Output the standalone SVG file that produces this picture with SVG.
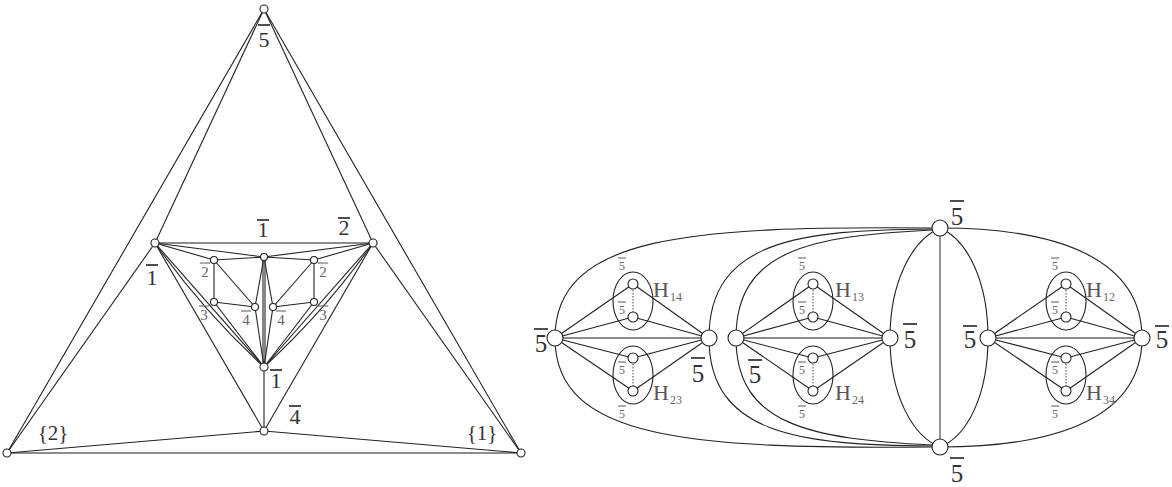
<svg xmlns="http://www.w3.org/2000/svg" width="1172" height="487" viewBox="0 0 1172 487">
<style>
.e{stroke:#222;stroke-width:1.1;fill:none}
.g{stroke:#666;stroke-width:1.4;fill:none}
.d{stroke:#444;stroke-width:1;stroke-dasharray:1.5 1.5;fill:none}
.n{fill:#fff;stroke:#222;stroke-width:1.1}
.ov{stroke:#222;stroke-width:1.1;fill:none}
.bar{stroke:#222;stroke-width:1.6}
.sbar{stroke:#666;stroke-width:1.1}
text{font-family:'Liberation Serif','DejaVu Serif',serif}
.big{font-size:22px;fill:#333;text-anchor:middle}
.bg5{font-size:25px;fill:#333;text-anchor:middle}
.sm{font-size:15px;fill:#666;text-anchor:middle}
.xs{font-size:12px;fill:#666;text-anchor:middle}
.H{font-size:22px;fill:#555}
.sub{font-size:12px;fill:#666}
</style>
<rect width="1172" height="487" fill="#fff"/>
<g id="connectors">
<line class="e" x1="264" y1="9" x2="7" y2="453"/>
<line class="e" x1="264" y1="9" x2="521" y2="453"/>
<line class="e" x1="264" y1="9" x2="155" y2="243"/>
<line class="e" x1="264" y1="9" x2="373" y2="243"/>
<line class="e" x1="155" y1="243" x2="7" y2="453"/>
<line class="e" x1="373" y1="243" x2="521" y2="453"/>
<line class="g" x1="7" y1="453" x2="521" y2="453"/>
<line class="e" x1="7" y1="453" x2="264" y2="431"/>
<line class="e" x1="264" y1="431" x2="521" y2="453"/>
<line class="e" x1="155" y1="243" x2="264" y2="431"/>
<line class="e" x1="373" y1="243" x2="264" y2="431"/>
<line class="e" x1="264" y1="367" x2="264" y2="431"/>
<line class="g" x1="155" y1="243" x2="373" y2="243"/>
<line class="e" x1="155" y1="243" x2="264" y2="257"/>
<line class="e" x1="373" y1="243" x2="264" y2="257"/>
<line class="e" x1="155" y1="243" x2="214" y2="260"/>
<line class="e" x1="214" y1="260" x2="264" y2="257"/>
<line class="e" x1="214" y1="260" x2="214" y2="302"/>
<line class="e" x1="214" y1="302" x2="255" y2="307"/>
<line class="e" x1="214" y1="260" x2="255" y2="307"/>
<line class="e" x1="264" y1="257" x2="255" y2="307"/>
<line class="e" x1="264" y1="257" x2="273" y2="307"/>
<line class="e" x1="255" y1="307" x2="264" y2="367"/>
<line class="e" x1="273" y1="307" x2="264" y2="367"/>
<line class="e" x1="263" y1="257" x2="263" y2="367"/>
<line class="e" x1="265" y1="257" x2="265" y2="367"/>
<line class="e" x1="373" y1="243" x2="314" y2="260"/>
<line class="e" x1="314" y1="260" x2="264" y2="257"/>
<line class="e" x1="314" y1="260" x2="314" y2="302"/>
<line class="e" x1="314" y1="302" x2="273" y2="307"/>
<line class="e" x1="314" y1="260" x2="273" y2="307"/>
<line class="e" x1="155" y1="243" x2="264" y2="367"/>
<path class="e" d="M155,243 Q203,311 264,367"/>
<line class="e" x1="214" y1="302" x2="264" y2="367"/>
<line class="e" x1="373" y1="243" x2="264" y2="367"/>
<path class="e" d="M373,243 Q325,311 264,367"/>
<line class="e" x1="314" y1="302" x2="264" y2="367"/>
<path class="e" d="M555,338 C555,235 690,226 932,228"/>
<path class="e" d="M555,338 C555,440 690,449 932,447"/>
<path class="e" d="M709,338 C709,240 800,230 932,229"/>
<path class="e" d="M709,338 C709,435 800,445 932,446"/>
<path class="e" d="M736,338 C736,250 810,236 932,230"/>
<path class="e" d="M736,338 C736,425 810,439 932,445"/>
<path class="e" d="M940,228 C912,240 890,282 890,338 C890,394 912,436 940,447"/>
<path class="e" d="M940,228 C968,240 988,282 988,338 C988,394 968,436 940,447"/>
<path class="e" d="M940,228 C1060,228 1142,260 1142,338 C1142,416 1060,447 940,447"/>
<line class="g" x1="940" y1="228" x2="940" y2="447"/>
<line class="g" x1="555" y1="338" x2="709" y2="338"/>
<line class="e" x1="555" y1="338" x2="633" y2="284"/>
<line class="e" x1="555" y1="338" x2="633" y2="317"/>
<line class="e" x1="555" y1="338" x2="633" y2="358"/>
<line class="e" x1="555" y1="338" x2="633" y2="391"/>
<line class="e" x1="709" y1="338" x2="633" y2="284"/>
<line class="e" x1="709" y1="338" x2="633" y2="317"/>
<line class="e" x1="709" y1="338" x2="633" y2="358"/>
<line class="e" x1="709" y1="338" x2="633" y2="391"/>
<line class="d" x1="633" y1="284" x2="633" y2="317"/>
<line class="d" x1="633" y1="358" x2="633" y2="391"/>
<line class="g" x1="736" y1="338" x2="890" y2="338"/>
<line class="e" x1="736" y1="338" x2="813" y2="284"/>
<line class="e" x1="736" y1="338" x2="813" y2="317"/>
<line class="e" x1="736" y1="338" x2="813" y2="358"/>
<line class="e" x1="736" y1="338" x2="813" y2="391"/>
<line class="e" x1="890" y1="338" x2="813" y2="284"/>
<line class="e" x1="890" y1="338" x2="813" y2="317"/>
<line class="e" x1="890" y1="338" x2="813" y2="358"/>
<line class="e" x1="890" y1="338" x2="813" y2="391"/>
<line class="d" x1="813" y1="284" x2="813" y2="317"/>
<line class="d" x1="813" y1="358" x2="813" y2="391"/>
<line class="g" x1="988" y1="338" x2="1142" y2="338"/>
<line class="e" x1="988" y1="338" x2="1066" y2="284"/>
<line class="e" x1="988" y1="338" x2="1066" y2="317"/>
<line class="e" x1="988" y1="338" x2="1066" y2="358"/>
<line class="e" x1="988" y1="338" x2="1066" y2="391"/>
<line class="e" x1="1142" y1="338" x2="1066" y2="284"/>
<line class="e" x1="1142" y1="338" x2="1066" y2="317"/>
<line class="e" x1="1142" y1="338" x2="1066" y2="358"/>
<line class="e" x1="1142" y1="338" x2="1066" y2="391"/>
<line class="d" x1="1066" y1="284" x2="1066" y2="317"/>
<line class="d" x1="1066" y1="358" x2="1066" y2="391"/>
</g>
<g id="H14"><ellipse class="ov" cx="633" cy="301" rx="20" ry="29"/><circle class="n" cx="633" cy="284" r="5"/><circle class="n" cx="633" cy="317" r="5"/>
<text class="xs" x="622" y="270">5</text><line class="sbar" x1="618" y1="258" x2="626" y2="258"/>
<text class="xs" x="622" y="314">5</text><line class="sbar" x1="618" y1="302" x2="626" y2="302"/>
<text class="H" x="653" y="297">H</text><text class="sub" x="670" y="301">14</text></g>
<g id="H23"><ellipse class="ov" cx="633" cy="375" rx="20" ry="29"/><circle class="n" cx="633" cy="358" r="5"/><circle class="n" cx="633" cy="391" r="5"/>
<text class="xs" x="622" y="374">5</text><line class="sbar" x1="618" y1="362" x2="626" y2="362"/>
<text class="xs" x="622" y="418">5</text><line class="sbar" x1="618" y1="406" x2="626" y2="406"/>
<text class="H" x="653" y="400">H</text><text class="sub" x="670" y="404">23</text></g>
<g id="H13"><ellipse class="ov" cx="813" cy="301" rx="20" ry="29"/><circle class="n" cx="813" cy="284" r="5"/><circle class="n" cx="813" cy="317" r="5"/>
<text class="xs" x="802" y="270">5</text><line class="sbar" x1="798" y1="258" x2="806" y2="258"/>
<text class="xs" x="802" y="314">5</text><line class="sbar" x1="798" y1="302" x2="806" y2="302"/>
<text class="H" x="835" y="297">H</text><text class="sub" x="852" y="301">13</text></g>
<g id="H24"><ellipse class="ov" cx="813" cy="375" rx="20" ry="29"/><circle class="n" cx="813" cy="358" r="5"/><circle class="n" cx="813" cy="391" r="5"/>
<text class="xs" x="802" y="374">5</text><line class="sbar" x1="798" y1="362" x2="806" y2="362"/>
<text class="xs" x="802" y="418">5</text><line class="sbar" x1="798" y1="406" x2="806" y2="406"/>
<text class="H" x="835" y="400">H</text><text class="sub" x="852" y="404">24</text></g>
<g id="H12"><ellipse class="ov" cx="1066" cy="301" rx="20" ry="29"/><circle class="n" cx="1066" cy="284" r="5"/><circle class="n" cx="1066" cy="317" r="5"/>
<text class="xs" x="1055" y="270">5</text><line class="sbar" x1="1051" y1="258" x2="1059" y2="258"/>
<text class="xs" x="1055" y="314">5</text><line class="sbar" x1="1051" y1="302" x2="1059" y2="302"/>
<text class="H" x="1086" y="297">H</text><text class="sub" x="1103" y="301">12</text></g>
<g id="H34"><ellipse class="ov" cx="1066" cy="375" rx="20" ry="29"/><circle class="n" cx="1066" cy="358" r="5"/><circle class="n" cx="1066" cy="391" r="5"/>
<text class="xs" x="1055" y="374">5</text><line class="sbar" x1="1051" y1="362" x2="1059" y2="362"/>
<text class="xs" x="1055" y="418">5</text><line class="sbar" x1="1051" y1="406" x2="1059" y2="406"/>
<text class="H" x="1086" y="400">H</text><text class="sub" x="1103" y="404">34</text></g>
<g id="rA"><circle class="n" cx="555" cy="338" r="8"/><text class="bg5" x="541" y="352">5</text><line class="bar" x1="534" y1="329" x2="548" y2="329"/></g>
<g id="rB"><circle class="n" cx="709" cy="338" r="8"/><text class="bg5" x="698" y="382">5</text><line class="bar" x1="691" y1="358" x2="705" y2="358"/></g>
<g id="rC"><circle class="n" cx="736" cy="338" r="8"/><text class="bg5" x="755" y="383">5</text><line class="bar" x1="748" y1="360" x2="762" y2="360"/></g>
<g id="rD"><circle class="n" cx="890" cy="338" r="8"/><text class="bg5" x="910" y="348">5</text><line class="bar" x1="903" y1="324" x2="917" y2="324"/></g>
<g id="rT"><circle class="n" cx="940" cy="228" r="8"/><text class="bg5" x="957" y="225">5</text><line class="bar" x1="950" y1="201" x2="964" y2="201"/></g>
<g id="rU"><circle class="n" cx="940" cy="447" r="8"/><text class="bg5" x="957" y="482">5</text><line class="bar" x1="950" y1="458" x2="964" y2="458"/></g>
<g id="rE"><circle class="n" cx="988" cy="338" r="8"/><text class="bg5" x="970" y="348">5</text><line class="bar" x1="963" y1="326" x2="977" y2="326"/></g>
<g id="rF"><circle class="n" cx="1142" cy="338" r="8"/><text class="bg5" x="1162" y="348">5</text><line class="bar" x1="1155" y1="326" x2="1169" y2="326"/></g>
<g id="top"><circle class="n" cx="264" cy="9" r="4"/><text class="big" x="264" y="47">5</text><line class="bar" x1="258" y1="25" x2="270" y2="25"/></g>
<g id="bl"><circle class="n" cx="7" cy="453" r="4"/><text class="big" x="53" y="440" style="font-size:21px">{2}</text></g>
<g id="br"><circle class="n" cx="521" cy="453" r="4"/><text class="big" x="482" y="440" style="font-size:21px">{1}</text></g>
<g id="m4"><circle class="n" cx="264" cy="431" r="4"/><text class="big" x="295" y="424">4</text><line class="bar" x1="289" y1="406" x2="301" y2="406"/></g>
<g id="L"><circle class="n" cx="155" cy="243" r="4"/><text class="big" x="152" y="285">1</text><line class="bar" x1="146" y1="265" x2="158" y2="265"/></g>
<g id="R"><circle class="n" cx="373" cy="243" r="4"/><text class="big" x="344" y="235">2</text><line class="bar" x1="338" y1="218" x2="350" y2="218"/></g>
<g id="mid1"><text class="big" x="263" y="237">1</text><line class="bar" x1="257" y1="220" x2="269" y2="220"/></g>
<g id="C"><circle class="n" cx="264" cy="257" r="3.5"/></g>
<g id="low1"><circle class="n" cx="264" cy="367" r="4"/><text class="big" x="276" y="388">1</text><line class="bar" x1="270" y1="370" x2="282" y2="370"/></g>
<g id="l2"><circle class="n" cx="214" cy="260" r="3.5"/><text class="sm" x="205" y="277">2</text><line class="sbar" x1="200" y1="263" x2="210" y2="263"/></g>
<g id="l3"><circle class="n" cx="214" cy="302" r="3.5"/><text class="sm" x="204" y="320">3</text><line class="sbar" x1="199" y1="306" x2="209" y2="306"/></g>
<g id="l4"><circle class="n" cx="255" cy="307" r="3.5"/><text class="sm" x="246" y="325">4</text><line class="sbar" x1="241" y1="311" x2="251" y2="311"/></g>
<g id="r4"><circle class="n" cx="273" cy="307" r="3.5"/><text class="sm" x="281" y="325">4</text><line class="sbar" x1="276" y1="311" x2="286" y2="311"/></g>
<g id="r2"><circle class="n" cx="314" cy="260" r="3.5"/><text class="sm" x="323" y="277">2</text><line class="sbar" x1="318" y1="263" x2="328" y2="263"/></g>
<g id="r3"><circle class="n" cx="314" cy="302" r="3.5"/><text class="sm" x="323" y="320">3</text><line class="sbar" x1="318" y1="306" x2="328" y2="306"/></g>
</svg>
